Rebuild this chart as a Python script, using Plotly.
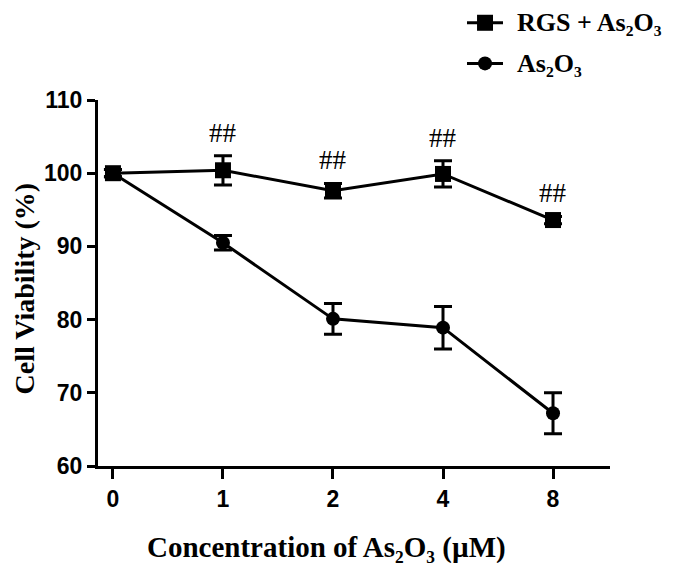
import plotly.graph_objects as go

doses = ["0", "1", "2", "4", "8"]
xpos = [0, 1, 2, 4, 8]
rgs_vals = [100.0, 100.4, 97.6, 99.9, 93.6]
rgs_err = [0.5, 2.0, 1.0, 1.8, 0.5]
as_vals = [100.0, 90.5, 80.1, 78.9, 67.2]
as_err = [0.5, 1.0, 2.1, 2.9, 2.8]
sig_labels = ["", "##", "##", "##", "##"]
series_names = ["RGS + As₂O₃", "As₂O₃"]

idx = list(range(len(doses)))
serif = "Liberation Serif, Times New Roman, serif"
sans = "Liberation Sans, Arial, sans-serif"

fig = go.Figure()
fig.add_trace(go.Scatter(
    x=idx, y=rgs_vals, name=series_names[0],
    mode="lines+markers",
    line=dict(color="black", width=3),
    marker=dict(symbol="square", size=16, color="black"),
    error_y=dict(type="data", array=rgs_err, color="black", thickness=3, width=9),
))
fig.add_trace(go.Scatter(
    x=idx, y=as_vals, name=series_names[1],
    mode="lines+markers",
    line=dict(color="black", width=3),
    marker=dict(symbol="circle", size=14, color="black"),
    error_y=dict(type="data", array=as_err, color="black", thickness=3, width=9),
))

for i, lab in enumerate(sig_labels):
    if lab:
        fig.add_annotation(
            x=idx[i], y=rgs_vals[i] + rgs_err[i], text=lab, showarrow=False,
            yanchor="bottom", yshift=6,
            font=dict(family=serif, size=27, color="black"),
        )

# manual legend (key glyphs + labels) placed in paper coordinates
leg_y = [1.211, 1.100]
line_x0, line_x1, mark_x, text_x = 0.7207, 0.791, 0.7559, 0.8145
for k, name in enumerate(series_names):
    y = leg_y[k]
    fig.add_shape(type="line", xref="paper", yref="paper",
                  x0=line_x0, x1=line_x1, y0=y, y1=y,
                  line=dict(color="black", width=3))
    if k == 0:
        fig.add_shape(type="rect", xref="paper", yref="paper",
                      x0=mark_x - 0.0156, x1=mark_x + 0.0156,
                      y0=y - 0.0219, y1=y + 0.0219,
                      fillcolor="black", line=dict(width=0))
    else:
        fig.add_shape(type="circle", xref="paper", yref="paper",
                      x0=mark_x - 0.0137, x1=mark_x + 0.0137,
                      y0=y - 0.0191, y1=y + 0.0191,
                      fillcolor="black", line=dict(width=0))
    fig.add_annotation(
        xref="paper", yref="paper", x=text_x, y=y,
        xanchor="left", yanchor="middle", showarrow=False,
        text="<b>" + name + "</b>",
        font=dict(family=serif, size=26, color="black"),
    )

fig.add_annotation(
    xref="paper", yref="paper", x=-0.144, y=0.486,
    xanchor="center", yanchor="middle",
    text="<b>Cell Viability (%)</b>", showarrow=False, textangle=-90,
    font=dict(family=serif, size=28, color="black"),
)
fig.add_annotation(
    xref="paper", yref="paper", x=0.447, y=-0.224,
    xanchor="center", yanchor="middle",
    text="<b>Concentration of As₂O₃ (µM)</b>", showarrow=False,
    font=dict(family=serif, size=29, color="black"),
)

fig.update_xaxes(
    range=[-0.136, 4.518], tickvals=idx, ticktext=doses,
    showline=True, linecolor="black", linewidth=3,
    ticks="outside", ticklen=10, tickwidth=3, tickcolor="black",
    showgrid=False, zeroline=False,
    tickfont=dict(family=sans, size=23, color="black", weight="bold"),
)
fig.update_yaxes(
    range=[60, 110], tickvals=[60, 70, 80, 90, 100, 110],
    showline=True, linecolor="black", linewidth=3,
    ticks="outside", ticklen=8, tickwidth=3, tickcolor="black",
    showgrid=False, zeroline=False,
    tickfont=dict(family=sans, size=23, color="black", weight="bold"),
)

fig.update_layout(
    width=667, height=555,
    margin=dict(l=90, r=65, t=92, b=97, autoexpand=False),
    plot_bgcolor="white", paper_bgcolor="white",
    showlegend=False,
)

fig.write_html("out.html")
